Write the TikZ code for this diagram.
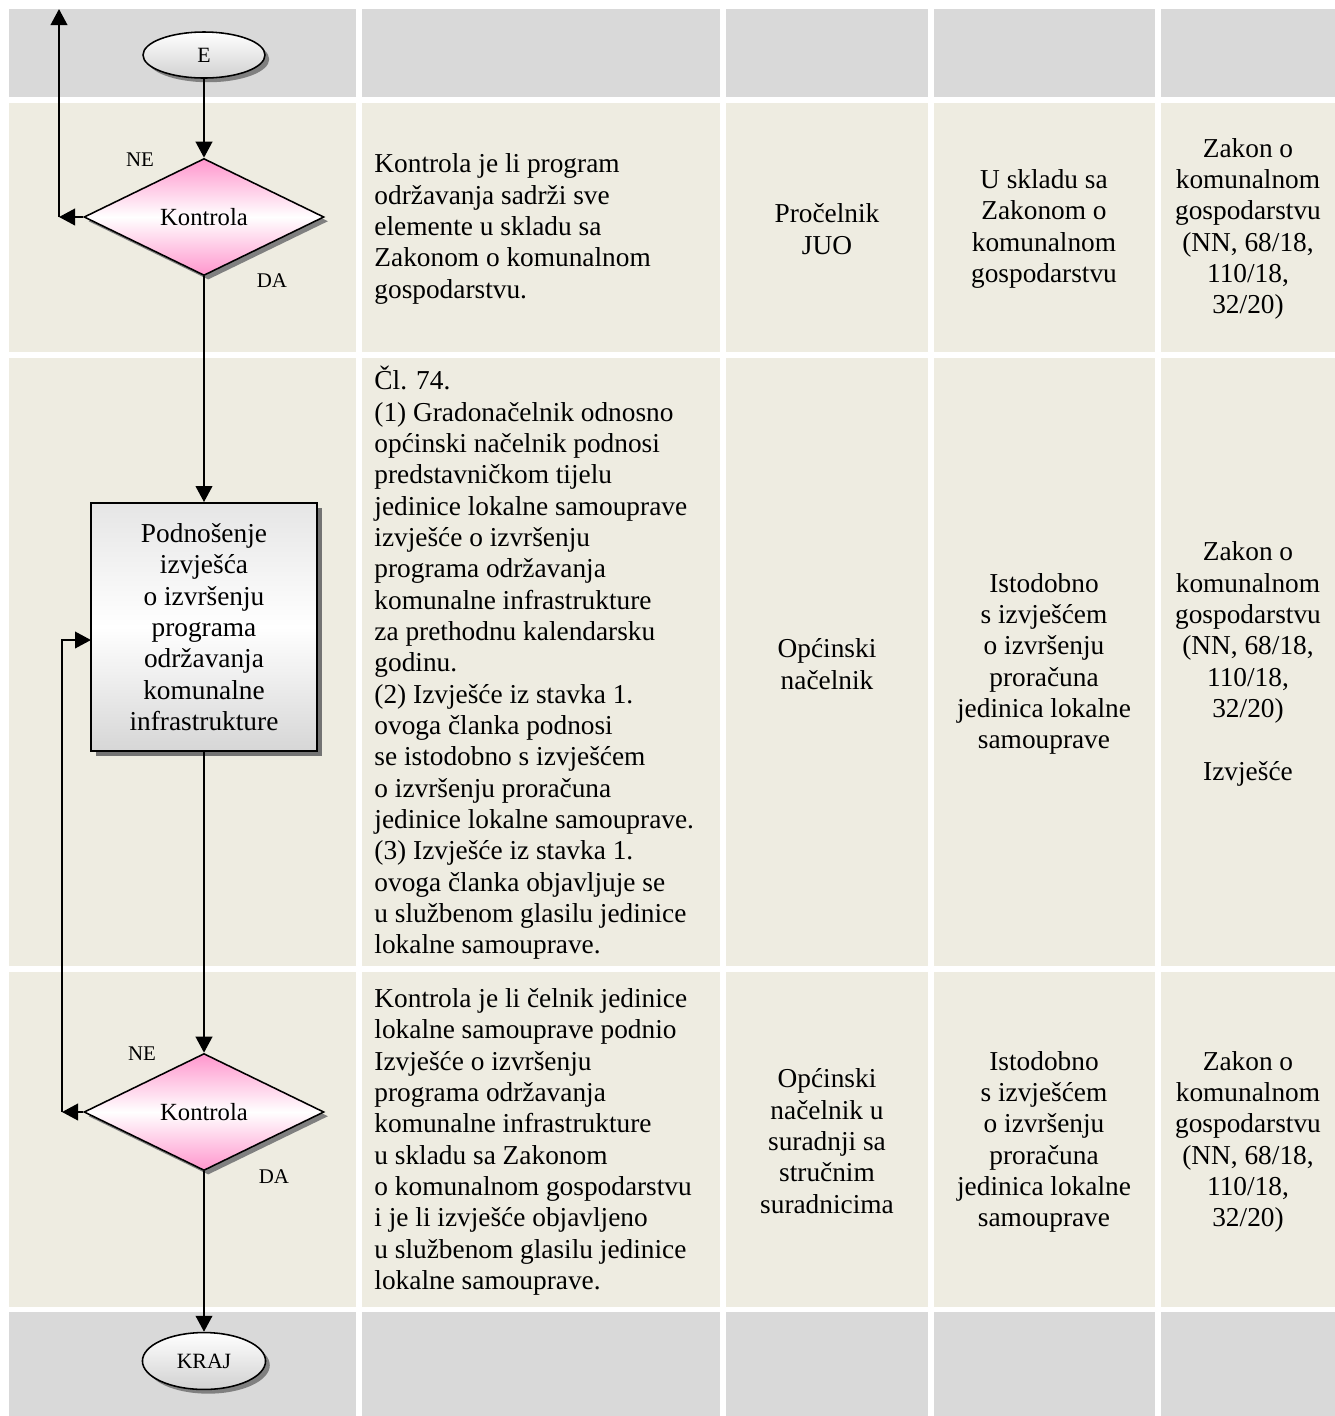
\documentclass[tikz,border=0pt]{standalone}
\usepackage{fontspec}
\setmainfont{Liberation Serif}
\usetikzlibrary{shapes.geometric,arrows.meta,shadows}
\definecolor{graycell}{HTML}{D9D9D9}
\definecolor{beigecell}{HTML}{EEECE1}
\definecolor{pinkc}{RGB}{255,150,205}
\begin{document}
\begin{tikzpicture}[x=0.45pt,y=-0.45pt,
  maintext/.style={font=\fontsize{12.3}{14.1}\selectfont,inner sep=0pt},
  lefttext/.style={maintext,align=left,anchor=west},
  midtext/.style={maintext,align=center},
  small/.style={font=\fontsize{9.4}{11}\selectfont,inner sep=0pt},
  shadowed/.style={drop shadow={shadow xshift=1.9pt,shadow yshift=-1.9pt,fill=black!50,opacity=1}},
  decision/.style={diamond,draw,line width=0.7pt,inner sep=0pt,
    minimum width=108pt,minimum height=52.65pt,
    top color=pinkc,bottom color=pinkc,middle color=white,shadowed,
    font=\fontsize{11.1}{13}\selectfont},
  terminal/.style={ellipse,draw,line width=0.7pt,inner sep=0pt,
    top color=white,bottom color=black!18,shadowed,
    font=\fontsize{9.8}{11}\selectfont},
  process/.style={rectangle,draw,line width=0.8pt,inner sep=0pt,align=center,
    minimum width=101.7pt,minimum height=111.6pt,
    top color=black!10,bottom color=black!16,middle color=white,
    drop shadow={shadow xshift=2.2pt,shadow yshift=-2.2pt,fill=black!55,opacity=1},
    font=\fontsize{12.3}{14.1}\selectfont},
  arr/.style={-{Triangle[length=7.2pt,width=7.4pt]},line width=1.1pt}]
\useasboundingbox (0,0) rectangle (1335,1416);
% table cells
\foreach \xa/\xb in {9/356,362/720,726/928,934/1155,1161/1335}{
  \fill[graycell] (\xa,9) rectangle (\xb,97);
  \fill[beigecell] (\xa,103) rectangle (\xb,352);
  \fill[beigecell] (\xa,358) rectangle (\xb,966);
  \fill[beigecell] (\xa,972) rectangle (\xb,1307);
  \fill[graycell] (\xa,1312) rectangle (\xb,1416);
}
% flowchart nodes
\node[terminal,minimum width=54.9pt,minimum height=20.7pt] (E) at (204,55) {E};
\node[decision] (d1) at (204,217) {Kontrola};
\node[process] (p1) at (204,627) {Podnošenje\\izvješća\\o izvršenju\\programa\\održavanja\\komunalne\\infrastrukture};
\node[decision] (d2) at (204,1112) {Kontrola};
\node[terminal,minimum width=55.4pt,minimum height=25.6pt] (K) at (204,1361) {KRAJ};
\node[small] (ne1) at (140,160) {NE};
\node[small] (da1) at (272,281) {DA};
\node[small] (ne2) at (142,1054) {NE};
\node[small] (da2) at (274,1177) {DA};
\coordinate (c1) at (59,217);
\coordinate (c1t) at (59,9);
\coordinate (c2) at (62,1112);
\coordinate (c3) at (91,640);
% connectors
\draw[arr] (E.south) -- (d1.north);
\draw[arr] (d1.west) -- (c1);
\draw[arr] (c1) -- (c1t);
\draw[arr] (d1.south) -- (p1.north);
\draw[arr] (p1.south) -- (d2.north);
\draw[arr] (d2.west) -- (c2);
\draw[arr] (c2) |- (c3);
\draw[arr] (d2.south) -- (K.north);
% row 1 texts
\node[lefttext] (t11) at (374,229) {Kontrola je li program\\održavanja sadrži sve\\elemente u skladu sa\\Zakonom o komunalnom\\gospodarstvu.};
\node[midtext] (t12) at (827,229) {Pročelnik\\JUO};
\node[midtext] (t13) at (1044,229) {U skladu sa\\Zakonom o\\komunalnom\\gospodarstvu};
\node[midtext] (t14) at (1248,229) {Zakon o\\komunalnom\\gospodarstvu\\(NN, 68/18,\\110/18,\\32/20)};
% row 2 texts
\node[lefttext] (t21) at (374,663) {Čl. 74.\\(1) Gradonačelnik odnosno\\općinski načelnik podnosi\\predstavničkom tijelu\\jedinice lokalne samouprave\\izvješće o izvršenju\\programa održavanja\\komunalne infrastrukture\\za prethodnu kalendarsku\\godinu.\\(2) Izvješće iz stavka 1.\\ovoga članka podnosi\\se istodobno s izvješćem\\o izvršenju proračuna\\jedinice lokalne samouprave.\\(3) Izvješće iz stavka 1.\\ovoga članka objavljuje se\\u službenom glasilu jedinice\\lokalne samouprave.};
\node[midtext] (t22) at (827,664) {Općinski\\načelnik};
\node[midtext] (t23) at (1044,664) {Istodobno\\s izvješćem\\o izvršenju\\proračuna\\jedinica lokalne\\samouprave};
\node[midtext] (t24) at (1248,664) {Zakon o\\komunalnom\\gospodarstvu\\(NN, 68/18,\\110/18,\\32/20)\\\mbox{}\\Izvješće};
% row 3 texts
\node[lefttext] (t31) at (374,1142) {Kontrola je li čelnik jedinice\\lokalne samouprave podnio\\Izvješće o izvršenju\\programa održavanja\\komunalne infrastrukture\\u skladu sa Zakonom\\o komunalnom gospodarstvu\\i je li izvješće objavljeno\\u službenom glasilu jedinice\\lokalne samouprave.};
\node[midtext] (t32) at (827,1141) {Općinski\\načelnik u\\suradnji sa\\stručnim\\suradnicima};
\node[midtext] (t33) at (1044,1142) {Istodobno\\s izvješćem\\o izvršenju\\proračuna\\jedinica lokalne\\samouprave};
\node[midtext] (t34) at (1248,1142) {Zakon o\\komunalnom\\gospodarstvu\\(NN, 68/18,\\110/18,\\32/20)};
\end{tikzpicture}
\end{document}
